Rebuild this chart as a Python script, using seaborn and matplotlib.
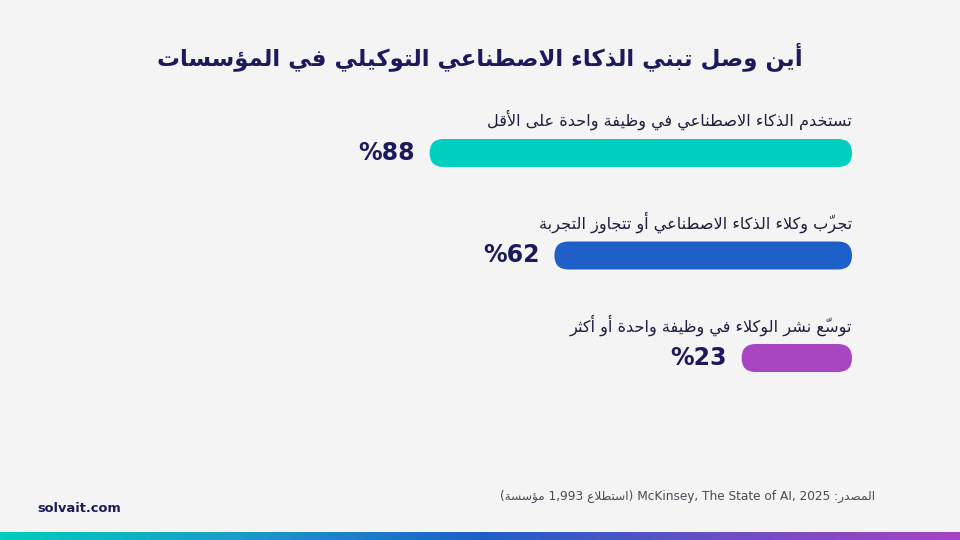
import re
import numpy as np
import pandas as pd
import matplotlib.pyplot as plt
import seaborn as sns
from matplotlib.patches import FancyBboxPatch
from matplotlib.colors import LinearSegmentedColormap

title = "أين وصل تبني الذكاء الاصطناعي التوكيلي في المؤسسات"
categories = [
    "تستخدم الذكاء الاصطناعي في وظيفة واحدة على الأقل",
    "تجرّب وكلاء الذكاء الاصطناعي أو تتجاوز التجربة",
    "توسّع نشر الوكلاء في وظيفة واحدة أو أكثر",
]
values = [88, 62, 23]
bar_colors = ["#00CFC0", "#1F5FC9", "#A846C2"]
source = "المصدر: McKinsey, The State of AI, 2025 (استطلاع 1,993 مؤسسة)"
site = "solvait.com"

bg = "#F4F4F5"
navy = "#1C1A5C"

# --- minimal arabic shaping + bidi (matplotlib has no text shaping) ---
_order = [(0x621, 1), (0x622, 2), (0x623, 2), (0x624, 2), (0x625, 2), (0x626, 4),
          (0x627, 2), (0x628, 4), (0x629, 2)] + [(c, 4) for c in range(0x62A, 0x62F)] + \
         [(0x62F, 2), (0x630, 2), (0x631, 2), (0x632, 2)] + \
         [(c, 4) for c in range(0x633, 0x63B)] + [(c, 4) for c in range(0x641, 0x648)] + \
         [(0x648, 2), (0x649, 2), (0x64A, 4)]
BASE, NFORMS = {}, {}
_cp = 0xFE80
for c, n in _order:
    BASE[c], NFORMS[c] = _cp, n
    _cp += n
LAMALEF = {0x622: 0xFEF5, 0x623: 0xFEF7, 0x625: 0xFEF9, 0x627: 0xFEFB}
MIRROR = {"(": ")", ")": "("}


def is_mark(ch):
    return 0x64B <= ord(ch) <= 0x652 or ord(ch) == 0x670


def dual(ch):
    return ch is not None and NFORMS.get(ord(ch)) == 4


def joinable(ch):
    return ch is not None and ord(ch) in BASE and ord(ch) != 0x621


def shape_clusters(text):
    # marks go before their base so they land on it when drawn left to right
    letters = [(i, ch) for i, ch in enumerate(text) if not is_mark(ch)]
    clusters = []
    k = 0
    while k < len(letters):
        i, ch = letters[k]
        prev = letters[k - 1][1] if k > 0 else None
        nxt = letters[k + 1][1] if k + 1 < len(letters) else None
        end = letters[k + 1][0] if k + 1 < len(letters) else len(text)
        marks = text[i + 1:end]
        cp = ord(ch)
        if cp == 0x644 and nxt is not None and ord(nxt) in LAMALEF:
            g = LAMALEF[ord(nxt)] + (1 if dual(prev) else 0)
            j = letters[k + 1][0]
            end2 = letters[k + 2][0] if k + 2 < len(letters) else len(text)
            clusters.append(marks + text[j + 1:end2] + chr(g))
            k += 2
            continue
        if cp in BASE:
            p = dual(prev) and cp != 0x621
            n = NFORMS[cp] == 4 and joinable(nxt)
            form = 3 if (p and n) else 1 if p else 2 if n else 0
            if NFORMS[cp] == 1:
                form = 0
            clusters.append(marks + chr(BASE[cp] + form))
        else:
            clusters.append(marks + ch)
        k += 1
    return clusters


def ar(text):
    units = []
    pos = 0
    for m in re.finditer(r"[A-Za-z0-9][A-Za-z0-9 ,.]*[A-Za-z0-9]|[A-Za-z0-9]", text):
        for cl in shape_clusters(text[pos:m.start()]):
            units.append(MIRROR.get(cl, cl))
        units.append(m.group())
        pos = m.end()
    for cl in shape_clusters(text[pos:]):
        units.append(MIRROR.get(cl, cl))
    return "".join(reversed(units))


sns.set_theme(style="white")
plt.rcParams["font.family"] = ["DejaVu Sans"]

df = pd.DataFrame({"label": categories, "value": values})

fig = plt.figure(figsize=(9.6, 5.4), dpi=100, facecolor=bg)
ax = fig.add_axes([372 / 960, (540 - 409.25) / 540, 480 / 960, 307.5 / 540])
ax.set_facecolor(bg)
sns.barplot(data=df, x="value", y="label", hue="label", palette=bar_colors,
            orient="h", width=0.273, saturation=1, legend=False, ax=ax)
ax.set_xlim(100, 0)
ax.set_ylim(2.5, -0.5)
ax.axis("off")

# rounded bar ends
pts = ax.transData.transform([(0, 0), (1, 1)])
sx, sy = abs(pts[1][0] - pts[0][0]), abs(pts[1][1] - pts[0][1])
for p in list(ax.patches):
    x, y, w, h = p.get_x(), p.get_y(), p.get_width(), p.get_height()
    r = h * sy / sx / 2
    fb = FancyBboxPatch((x, y), w, h, boxstyle=f"round,pad=0,rounding_size={r}",
                        mutation_aspect=sx / sy, fc=p.get_facecolor(), ec="none")
    p.remove()
    ax.add_patch(fb)

for i, (cat, v) in enumerate(zip(categories, values)):
    ax.text(0, i - 0.32, ar(cat), ha="right", va="center", fontsize=11.6,
            color="#1d1d3f")
    ax.text(v + 3.1, i, ar(f"{v}%"), ha="right", va="center", fontsize=17,
            fontweight="bold", color=navy)

fig.text(0.5, 1 - 57 / 540, ar(title), ha="center", va="center", fontsize=16.5,
         fontweight="bold", color=navy)
fig.text(875 / 960, 1 - 496 / 540, ar(source), ha="right", va="center",
         fontsize=8.7, color="#4a4a55")
fig.text(37 / 960, 1 - 508 / 540, site, ha="left", va="center", fontsize=9.4,
         fontweight="bold", color=navy)

cmap = LinearSegmentedColormap.from_list(
    "brand", ["#00CDBE", "#1A9CC8", "#1F5FC8", "#6A4FC4", "#A844C0"])
gax = fig.add_axes([0, 0, 1, 8 / 540])
gax.imshow(np.linspace(0, 1, 256)[None, :], aspect="auto", cmap=cmap)
gax.axis("off")

fig.savefig("out.png", dpi=100, facecolor=bg)
